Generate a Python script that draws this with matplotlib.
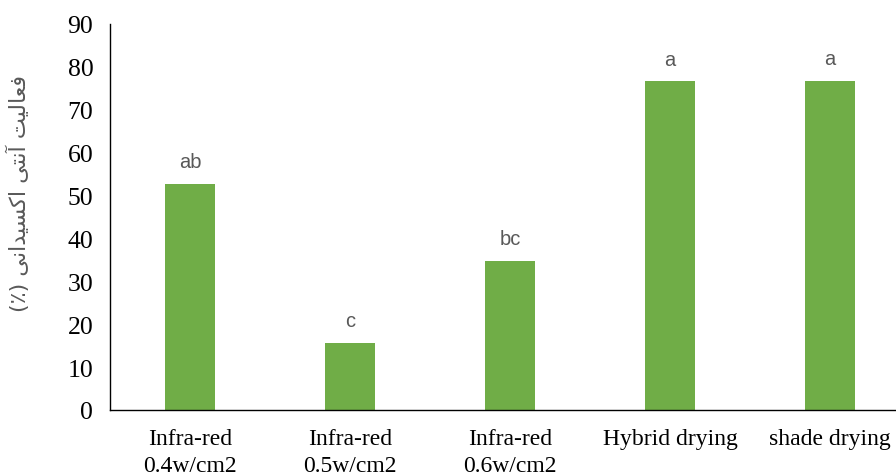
import matplotlib.pyplot as plt

# Data
categories = ["Infra-red\n0.4w/cm2", "Infra-red\n0.5w/cm2", "Infra-red\n0.6w/cm2",
              "Hybrid drying", "shade drying"]
values = [52.8, 15.7, 34.8, 76.7, 76.8]
letters = ["ab", "c", "bc", "a", "a"]
yticks = [0, 10, 20, 30, 40, 50, 60, 70, 80, 90]

# Persian label pre-shaped (presentation forms, visual order) since matplotlib has no bidi
word1 = "\uFE96\uFEF4\uFEDF\uFE8E\uFECC\uFED3"          # فعالیت
word2 = "\uFEF0\uFE98\uFEE7\uFE81"                      # آنتی
word3 = "\uFEF0\uFEE7\uFE8D\uFEAA\uFEF4\uFEB4\uFEDB\uFE8D"  # اکسیدانی
ylabel = "(\u066A) " + word3 + " " + word2 + " " + word1

fig = plt.figure(figsize=(8.96, 4.77), dpi=100)
ax = fig.add_axes([110 / 896, 66 / 477, 800 / 896, 386 / 477])

x = range(len(categories))
bars = ax.bar(x, values, width=0.31, color="#70AD47")

for b, lab in zip(bars, letters):
    ax.annotate(lab, (b.get_x() + b.get_width() / 2, b.get_height()),
                xytext=(0, 9), textcoords="offset points", ha="center", va="bottom",
                fontsize=14.5, color="#595959", family=["Liberation Sans", "DejaVu Sans"])

ax.set_xlim(-0.5, len(categories) - 0.5)
ax.set_ylim(0, 90)
ax.set_yticks(yticks)
ax.set_xticks(list(x))
ax.set_xticklabels(categories, family="Liberation Serif", fontsize=17, linespacing=1.35)
ax.set_yticklabels([str(t) for t in yticks], family="Liberation Serif", fontsize=18.5)
ax.tick_params(axis="both", length=0)
ax.tick_params(axis="y", pad=12)
ax.tick_params(axis="x", pad=13)

for s in ["top", "right"]:
    ax.spines[s].set_visible(False)
for s in ["left", "bottom"]:
    ax.spines[s].set_color("black")
    ax.spines[s].set_linewidth(1.0)

fig.text(18 / 896, 1 - 194 / 477, ylabel, rotation=90, ha="center", va="center",
         fontsize=16, color="#595959", family=["DejaVu Sans"])

plt.savefig("out.png", dpi=100)
